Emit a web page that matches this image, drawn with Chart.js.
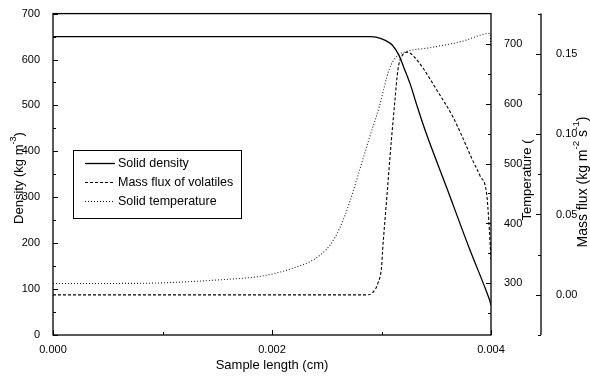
<!DOCTYPE html>
<html>
<head>
  <title>Solid density, mass flux and temperature</title>
  <script src="https://cdn.jsdelivr.net/npm/chart.js"></script>
  <style>
    body { margin: 0; background: #fff; }
    #chartContainer { width: 590px; height: 378px; }
</style>
</head>
<body>
  <div id="chartContainer">
    <canvas id="myChart" width="590" height="378"></canvas>
  </div>

  <script>
    // solid density (kg m-3) along the sample (cm)
    const densityX = [0, 0.0029, 0.00295, 0.00304, 0.0031, 0.00316, 0.0032, 0.00326, 0.00333, 0.0034, 0.0036, 0.0038, 0.00395, 0.00399, 0.004];
    const densityY = [650, 650, 649, 641, 631, 609, 585, 548, 495, 445, 318, 190, 100, 74, 65];

    // mass flux of volatiles (kg m-2 s-1)
    const fluxX = [0, 0.00287, 0.00292, 0.00297, 0.003, 0.00301, 0.00305, 0.00309, 0.00312, 0.00315, 0.00319, 0.00324, 0.0033, 0.00338, 0.0035, 0.00365, 0.00374, 0.00383, 0.0039, 0.00396, 0.00398, 0.004];
    const fluxY = [0, 0, 0.0014, 0.0077, 0.017, 0.0275, 0.062, 0.096, 0.119, 0.14, 0.149, 0.151, 0.148, 0.141, 0.128, 0.111, 0.098, 0.084, 0.074, 0.063, 0.046, 0.022];

    // solid temperature (K)
    const tempX = [0, 0.0005, 0.001, 0.0016, 0.0019, 0.0022, 0.0024, 0.00253, 0.00262, 0.00271, 0.0028, 0.00289, 0.00298, 0.00307, 0.00314, 0.00323, 0.00344, 0.00374, 0.00399, 0.004];
    const tempY = [300, 300, 301, 307, 312, 326, 342, 364, 393, 436, 489, 543, 595, 657, 679, 687, 693, 704, 717, 702];

    const seriesLabels = ['Solid density', 'Mass flux of volatiles', 'Solid temperature'];

    // tick values for each axis
    const xTicks = [0, 0.002, 0.004];
    const xMinor = [0.001, 0.003];
    const densityTicks = [0, 100, 200, 300, 400, 500, 600, 700];
    const densityMinor = [50, 150, 250, 350, 450, 550, 650];
    const tempTicks = [300, 400, 500, 600, 700];
    const tempMinor = [250, 350, 450, 550, 650];
    const fluxTicks = [0, 0.05, 0.10, 0.15];
    const fluxMinor = [-0.025, 0.025, 0.075, 0.125, 0.175];

    const FONT = '"Liberation Sans", Arial, sans-serif';
    Chart.defaults.font.family = FONT;
    Chart.defaults.color = '#000';

    const toPoints = (xs, ys) => xs.map((x, i) => ({ x: x, y: ys[i] }));
    const setTicks = values => scale => { scale.ticks = values.map(v => ({ value: v })); };

    // text with superscripts, e.g. kg m^-3
    function drawRichText(ctx, parts, cx, cy, rotate, size) {
      ctx.save();
      ctx.translate(cx, cy);
      if (rotate) ctx.rotate(-Math.PI / 2);
      let total = 0;
      parts.forEach(p => {
        ctx.font = (p.sup ? size * 0.7 : size) + 'px ' + FONT;
        total += ctx.measureText(p.t).width;
      });
      let x = -total / 2;
      ctx.textBaseline = 'middle';
      ctx.textAlign = 'left';
      ctx.fillStyle = '#000';
      parts.forEach(p => {
        ctx.font = (p.sup ? size * 0.7 : size) + 'px ' + FONT;
        ctx.fillText(p.t, x, p.sup ? -size * 0.45 : 0);
        x += ctx.measureText(p.t).width;
      });
      ctx.restore();
    }

    // Origin-style frame: inward ticks, offset mass flux axis, axis titles and legend box
    const framePlugin = {
      id: 'frame',
      afterDraw(chart) {
        const ctx = chart.ctx;
        const a = chart.chartArea;
        const s = chart.scales;
        ctx.save();
        ctx.strokeStyle = '#000';
        ctx.lineWidth = 1.3;
        ctx.strokeRect(a.left, a.top, a.right - a.left, a.bottom - a.top);

        const fx = s.yFlux.left;
        ctx.beginPath();
        ctx.moveTo(fx, a.top);
        ctx.lineTo(fx, a.bottom);
        ctx.stroke();

        ctx.lineWidth = 1;
        ctx.beginPath();
        const vTick = (scale, vals, x0, len) => vals.forEach(v => {
          const y = Math.round(scale.getPixelForValue(v)) + 0.5;
          ctx.moveTo(x0, y); ctx.lineTo(x0 + len, y);
        });
        xTicks.concat(xMinor).forEach((v, i) => {
          const x = Math.round(s.x.getPixelForValue(v)) + 0.5;
          ctx.moveTo(x, a.bottom); ctx.lineTo(x, a.bottom - (i < xTicks.length ? 5 : 3));
        });
        vTick(s.yDen, densityTicks, a.left, 5);
        vTick(s.yDen, densityMinor, a.left, 3);
        vTick(s.yTemp, tempTicks, a.right, -5);
        vTick(s.yTemp, tempMinor, a.right, -3);
        vTick(s.yFlux, fluxTicks, fx, -5);
        vTick(s.yFlux, fluxMinor, fx, -3);
        ctx.stroke();

        // axis titles
        drawRichText(ctx, [{ t: 'Sample length (cm)' }], (a.left + a.right) / 2, 365, false, 13);
        drawRichText(ctx, [{ t: 'Density (kg m' }, { t: '-3', sup: true }, { t: ')' }], 19, 178, true, 13);
        drawRichText(ctx, [{ t: 'Temperature (' }], 527, 180, true, 13);
        drawRichText(ctx, [{ t: 'Mass flux (kg m' }, { t: '-2', sup: true }, { t: ' s' }, { t: '-1', sup: true }, { t: ')' }], 583, 182, true, 14);

        // legend
        const box = { x: 73.5, y: 150.5, w: 168, h: 68 };
        ctx.fillStyle = '#fff';
        ctx.fillRect(box.x, box.y, box.w, box.h);
        ctx.lineWidth = 1;
        ctx.strokeRect(box.x, box.y, box.w, box.h);
        ctx.font = '12.5px ' + FONT;
        ctx.textBaseline = 'middle';
        ctx.fillStyle = '#000';
        chart.data.datasets.forEach((ds, i) => {
          const y = Math.round(163 + i * 19) + 0.5;
          ctx.setLineDash(ds.borderDash || []);
          ctx.lineWidth = ds.borderWidth;
          ctx.beginPath();
          ctx.moveTo(85, y); ctx.lineTo(115, y);
          ctx.stroke();
          ctx.setLineDash([]);
          ctx.fillText(ds.label, 118, y);
        });
        ctx.restore();
      }
    };

    const ctx = document.getElementById('myChart').getContext('2d');
    const myChart = new Chart(ctx, {
      type: 'line',
      data: {
        datasets: [{
          label: seriesLabels[0],
          data: toPoints(densityX, densityY),
          yAxisID: 'yDen',
          borderColor: '#000',
          borderWidth: 1.3
        }, {
          label: seriesLabels[1],
          data: toPoints(fluxX, fluxY),
          yAxisID: 'yFlux',
          borderColor: '#000',
          borderWidth: 1.1,
          borderDash: [3, 2]
        }, {
          label: seriesLabels[2],
          data: toPoints(tempX, tempY),
          yAxisID: 'yTemp',
          borderColor: '#222',
          borderWidth: 1.1,
          borderDash: [1, 2]
        }]
      },
      options: {
        responsive: false,
        animation: false,
        layout: { padding: { top: 13, left: 0, right: 0, bottom: 0 } },
        elements: {
          point: { radius: 0 },
          line: { cubicInterpolationMode: 'monotone', fill: false }
        },
        plugins: { legend: { display: false }, tooltip: { enabled: false } },
        scales: {
          x: {
            type: 'linear', min: 0, max: 0.004,
            afterBuildTicks: setTicks(xTicks),
            afterFit: scale => { scale.height = 43; },
            grid: { display: false }, border: { display: false },
            ticks: { padding: 0, font: { size: 11 }, maxRotation: 0, callback: v => v.toFixed(3) }
          },
          yDen: {
            position: 'left', min: 0, max: 700,
            afterBuildTicks: setTicks(densityTicks),
            afterFit: scale => { scale.width = 53; },
            grid: { display: false }, border: { display: false },
            ticks: { padding: 5, font: { size: 11 } }
          },
          yTemp: {
            position: 'right', min: 214, max: 750, weight: 0,
            afterBuildTicks: setTicks(tempTicks),
            afterFit: scale => { scale.width = 50; },
            grid: { display: false }, border: { display: false },
            ticks: { padding: 5, font: { size: 11 } }
          },
          yFlux: {
            position: 'right', min: -0.025, max: 0.175, weight: 1,
            afterBuildTicks: setTicks(fluxTicks),
            afterFit: scale => { scale.width = 49; },
            grid: { display: false }, border: { display: false },
            ticks: { padding: 7, font: { size: 11 }, callback: v => v.toFixed(2) }
          }
        }
      },
      plugins: [framePlugin]
    });
  </script>
</body>
</html>
